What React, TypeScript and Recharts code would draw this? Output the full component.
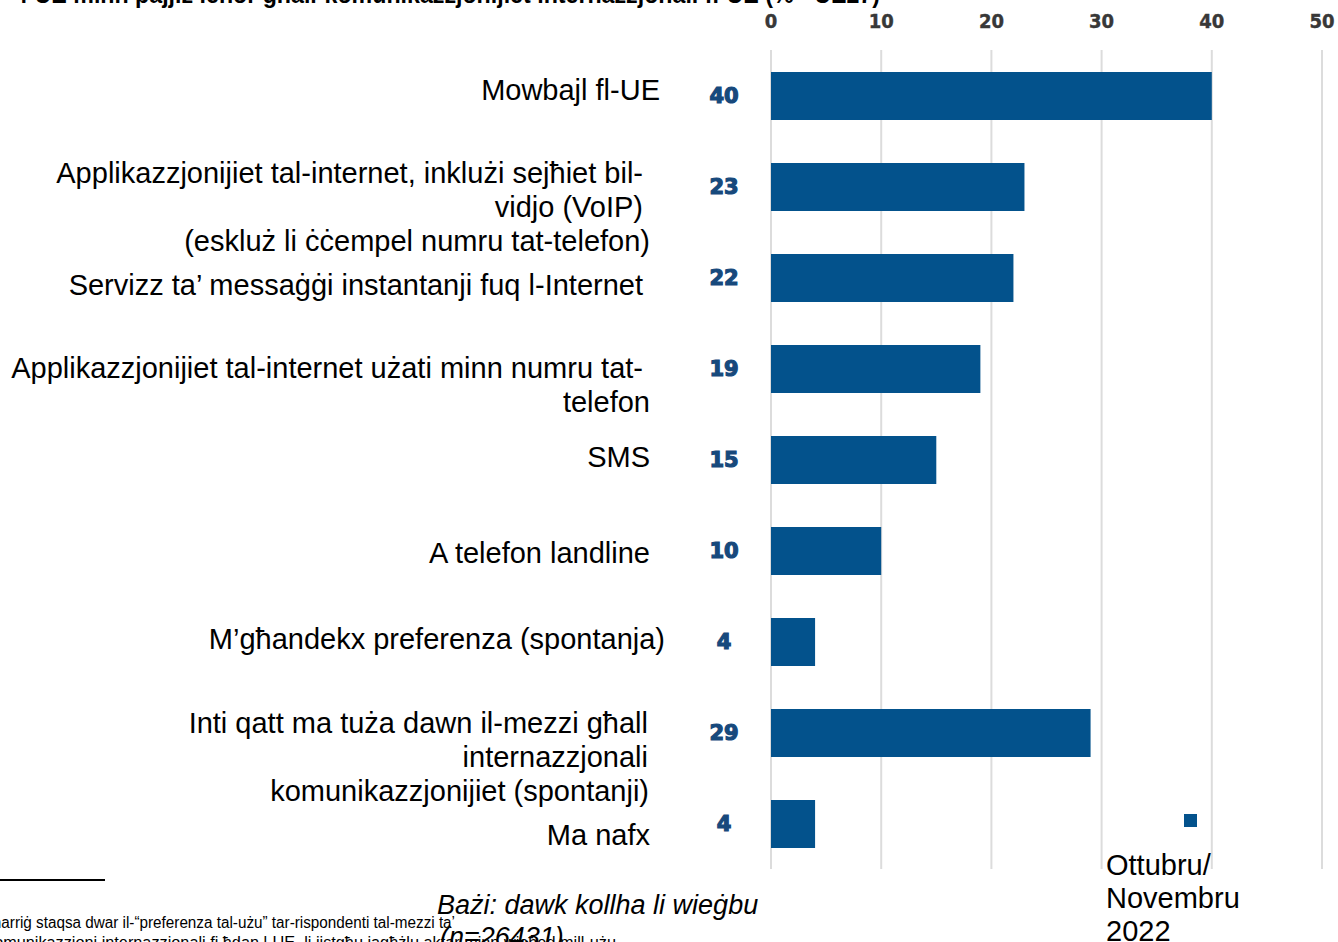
import { Bar, BarChart, CartesianGrid, LabelList, Legend, XAxis, YAxis } from 'recharts';

// category labels, one entry per line as printed in the source
const categoryLines: string[][] = [
  ['Mowbajl fl-UE'],
  ['Applikazzjonijiet tal-internet, inklużi sejħiet bil-', 'vidjo (VoIP)', '(eskluż li ċċempel numru tat-telefon)'],
  ['Servizz ta’ messaġġi instantanji fuq l-Internet'],
  ['Applikazzjonijiet tal-internet użati minn numru tat-', 'telefon'],
  ['SMS'],
  ['A telefon landline'],
  ['M’għandekx preferenza (spontanja)'],
  ['Inti qatt ma tuża dawn il-mezzi għall', 'internazzjonali', 'komunikazzjonijiet (spontanji)'],
  ['Ma nafx'],
];
const categories = categoryLines.map(lines => lines.join(' '));
const values = [40, 23, 22, 19, 15, 10, 4, 29, 4];
const xTicks = [0, 10, 20, 30, 40, 50];
const seriesName = 'Ottubru/ Novembru 2022';
const legendLines = ['Ottubru/', 'Novembru', '2022'];

// where each label block sits: first-line offset from bar centre, right edge per line
const labelLayout = [
  { dy: -6, right: [660] },
  { dy: -14, right: [643, 643, 650] },
  { dy: 7, right: [643] },
  { dy: -1, right: [643, 650] },
  { dy: -3, right: [650] },
  { dy: 2, right: [650] },
  { dy: -3, right: [665] },
  { dy: -10, right: [648, 648, 649] },
  { dy: 11, right: [650] },
];

const BAR_COLOR = '#03528c';
const LABEL_COLOR = '#17497c';
const FONT = "'Liberation Sans', Arial, sans-serif";

const chartData = categories.map((name, i) => ({ name, value: values[i] }));

const XTick = ({ x, y, payload }: any) => (
  <text
    x={x}
    y={y}
    textAnchor="middle"
    fontFamily="'DejaVu Sans Condensed', 'DejaVu Sans', sans-serif"
    fontWeight="bold"
    fontSize={20}
    fill="#383838"
    stroke="#383838"
    strokeWidth={0.4}
  >
    {payload.value}
  </text>
);

const YTick = ({ y, payload }: any) => {
  const idx = categories.indexOf(payload.value);
  const lines = categoryLines[idx] || [payload.value];
  const layout = labelLayout[idx] || { dy: 0, right: [650] };
  return (
    <g>
      {lines.map((line, i) => (
        <text
          key={i}
          x={layout.right[i] ?? layout.right[0]}
          y={y + layout.dy + i * 34 + 10}
          textAnchor="end"
          fontFamily={FONT}
          fontSize={29}
          fill="#000"
        >
          {line}
        </text>
      ))}
    </g>
  );
};

const ValueLabel = ({ x, y, height, value }: any) => (
  <text
    x={x - 47}
    y={y + height / 2 + 7}
    textAnchor="middle"
    fontFamily="'DejaVu Sans', sans-serif"
    fontWeight={900}
    fontSize={21}
    fill={LABEL_COLOR}
    stroke={LABEL_COLOR}
    strokeWidth={1.2}
  >
    {value}
  </text>
);

const LegendContent = () => (
  <div style={{ position: 'relative', width: 220, height: 140, fontFamily: FONT }}>
    <div style={{ position: 'absolute', left: 84, top: 9, width: 13, height: 13, background: BAR_COLOR }} />
    <div style={{ position: 'absolute', left: 6, top: 44, fontSize: 29, lineHeight: '33px', color: '#000' }}>
      {legendLines.map(l => (
        <div key={l}>{l}</div>
      ))}
    </div>
  </div>
);

export default function App() {
  return (
    <div
      style={{
        position: 'absolute',
        left: 0,
        top: 0,
        width: 1338,
        height: 942,
        overflow: 'hidden',
        background: '#fff',
        fontFamily: FONT,
      }}
    >
      <BarChart
        width={1338}
        height={942}
        data={chartData}
        layout="vertical"
        margin={{ top: 0, right: 16, bottom: 73, left: 0 }}
        barCategoryGap={0}
      >
        <CartesianGrid horizontal={false} stroke="#dcdcdc" strokeWidth={2} />
        <XAxis
          type="number"
          orientation="top"
          domain={[0, 50]}
          ticks={xTicks}
          height={50}
          axisLine={false}
          tickLine={false}
          tickSize={0}
          tickMargin={22}
          tick={<XTick />}
          interval={0}
        />
        <YAxis
          type="category"
          dataKey="name"
          width={771}
          axisLine={false}
          tickLine={false}
          tick={<YTick />}
          interval={0}
        />
        <Legend
          layout="horizontal"
          verticalAlign="middle"
          align="center"
          wrapperStyle={{ position: 'absolute', left: 1100, top: 805, width: 220, height: 140 }}
          content={<LegendContent />}
        />
        <Bar dataKey="value" name={seriesName} fill={BAR_COLOR} barSize={48} isAnimationActive={false}>
          <LabelList dataKey="value" content={<ValueLabel />} />
        </Bar>
      </BarChart>

      <svg
        width={1338}
        height={942}
        style={{ position: 'absolute', left: 0, top: 0, pointerEvents: 'none' }}
        fontFamily={FONT}
      >
        <text x={20} y={3} fontSize={26} fontWeight="bold" textLength={860} lengthAdjust="spacingAndGlyphs">
          f’UE minn pajjiż ieħor għall-komunikazzjonijiet internazzjonali fl-UE (% - UE27)
        </text>
        <line x1={0} y1={880} x2={105} y2={880} stroke="#000" strokeWidth={2} />
        <text x={437} y={914} fontSize={27} fontStyle="italic">
          Bażi: dawk kollha li wieġbu
        </text>
        <text x={440} y={946} fontSize={27} fontStyle="italic">
          (n=26431)
        </text>
        <text x={-36} y={928} fontSize={16} textLength={491} lengthAdjust="spacingAndGlyphs">
          L-istħarriġ staqsa dwar il-“preferenza tal-użu” tar-rispondenti tal-mezzi ta’
        </text>
        <text x={-14} y={948} fontSize={16} textLength={630} lengthAdjust="spacingAndGlyphs">
          komunikazzjoni internazzjonali fi ħdan l-UE, li jistgħu jagħżlu aktar minn wieħed mill-użu
        </text>
      </svg>
    </div>
  );
}
